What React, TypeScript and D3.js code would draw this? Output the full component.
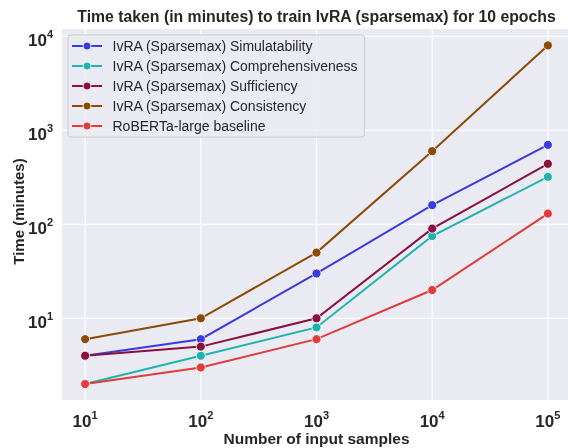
import * as d3 from 'd3';
import React, { useEffect, useRef } from 'react';

const samples = [10, 100, 1000, 10000, 100000];
const seriesNames = [
    'IvRA (Sparsemax) Simulatability',
    'IvRA (Sparsemax) Comprehensiveness',
    'IvRA (Sparsemax) Sufficiency',
    'IvRA (Sparsemax) Consistency',
    'RoBERTa-large baseline',
];
const simulatability = [4, 6, 30, 160, 700];
const comprehensiveness = [2, 4, 8, 75, 320];
const sufficiency = [4, 5, 10, 90, 440];
const consistency = [6, 10, 50, 600, 8000];
const baseline = [2, 3, 6, 20, 130];
const colors = ['#3a3ae0', '#1fb3ad', '#8b1040', '#8b4a06', '#e03c3c'];
const xTicks = [1, 2, 3, 4, 5];
const yTicks = [1, 2, 3, 4];

function Chart() {
    const ref = useRef<SVGSVGElement>(null);

    useEffect(() => {
        const svg = d3.select(ref.current);
        svg.selectAll('*').remove();

        const left = 62, right = 571, top = 29, bottom = 400;
        const ink = '#262626';
        const font = '"Liberation Sans", Arial, sans-serif';

        const x = d3.scaleLog().domain([Math.pow(10, 0.8), Math.pow(10, 5.2)]).range([left, right]);
        const y = d3.scaleLog().domain([Math.pow(10, 0.131), Math.pow(10, 4.078)]).range([bottom, top]);

        svg.append('rect')
            .attr('x', left).attr('y', top)
            .attr('width', right - left).attr('height', bottom - top)
            .attr('fill', '#eaeaf2');

        // grid
        svg.selectAll('.gx').data(xTicks).enter().append('line')
            .attr('x1', d => x(Math.pow(10, d))).attr('x2', d => x(Math.pow(10, d)))
            .attr('y1', top).attr('y2', bottom)
            .attr('stroke', '#fff').attr('stroke-width', 1.2);
        svg.selectAll('.gy').data(yTicks).enter().append('line')
            .attr('x1', left).attr('x2', right)
            .attr('y1', d => y(Math.pow(10, d))).attr('y2', d => y(Math.pow(10, d)))
            .attr('stroke', '#fff').attr('stroke-width', 1.2);

        // tick labels
        const xl = svg.selectAll('.xl').data(xTicks).enter().append('text')
            .attr('x', d => x(Math.pow(10, d))).attr('y', 426.5)
            .attr('text-anchor', 'middle')
            .attr('font-family', font).attr('font-weight', 'bold')
            .attr('font-size', 17).attr('fill', ink);
        xl.append('tspan').text('10');
        xl.append('tspan').attr('dy', -8).attr('font-size', 11).text(d => d);

        const yl = svg.selectAll('.yl').data(yTicks).enter().append('text')
            .attr('x', 53).attr('y', d => y(Math.pow(10, d)) + 9.5)
            .attr('text-anchor', 'end')
            .attr('font-family', font).attr('font-weight', 'bold')
            .attr('font-size', 17).attr('fill', ink);
        yl.append('tspan').text('10');
        yl.append('tspan').attr('dy', -8).attr('font-size', 11).text(d => d);

        // labels
        svg.append('text')
            .attr('x', (left + right) / 2).attr('y', 21.5)
            .attr('text-anchor', 'middle')
            .attr('font-family', font).attr('font-weight', 'bold')
            .attr('font-size', 15.8).attr('fill', ink)
            .text('Time taken (in minutes) to train IvRA (sparsemax) for 10 epochs');
        svg.append('text')
            .attr('x', (left + right) / 2).attr('y', 444)
            .attr('text-anchor', 'middle')
            .attr('font-family', font).attr('font-weight', 'bold')
            .attr('font-size', 15.5).attr('fill', ink)
            .text('Number of input samples');
        svg.append('text')
            .attr('transform', `translate(24,${(top + bottom) / 2 - 3}) rotate(-90)`)
            .attr('text-anchor', 'middle')
            .attr('font-family', font).attr('font-weight', 'bold')
            .attr('font-size', 15).attr('fill', ink)
            .text('Time (minutes)');

        // series
        const allSeries = [simulatability, comprehensiveness, sufficiency, consistency, baseline];
        const line = d3.line<number>()
            .x((d, i) => x(samples[i]))
            .y(d => y(d));

        allSeries.forEach((values, k) => {
            svg.append('path')
                .datum(values)
                .attr('d', line)
                .attr('fill', 'none')
                .attr('stroke', colors[k])
                .attr('stroke-width', 2);
            svg.selectAll('.pt' + k).data(values).enter().append('circle')
                .attr('cx', (d, i) => x(samples[i]))
                .attr('cy', d => y(d))
                .attr('r', 4.5)
                .attr('fill', colors[k])
                .attr('stroke', '#fff').attr('stroke-width', 0.8);
        });

        // legend
        const lg = svg.append('g');
        const box = lg.append('rect')
            .attr('x', 68).attr('y', 35)
            .attr('height', 102).attr('rx', 3)
            .attr('fill', '#eaeaf2').attr('fill-opacity', 0.8)
            .attr('stroke', '#cccccc').attr('stroke-width', 1);
        let maxW = 0;
        seriesNames.forEach((name, k) => {
            const cy = 46 + k * 20;
            lg.append('line')
                .attr('x1', 72).attr('x2', 102).attr('y1', cy).attr('y2', cy)
                .attr('stroke', colors[k]).attr('stroke-width', 2);
            lg.append('circle')
                .attr('cx', 87).attr('cy', cy).attr('r', 4)
                .attr('fill', colors[k]).attr('stroke', '#fff').attr('stroke-width', 0.8);
            const t = lg.append('text')
                .attr('x', 112.5).attr('y', cy + 5)
                .attr('font-family', font).attr('font-size', 14).attr('fill', ink)
                .text(name);
            const n = t.node() as SVGTextElement;
            maxW = Math.max(maxW, n.getComputedTextLength());
        });
        box.attr('width', 112.5 + maxW + 7 - 68);
    }, []);

    return <svg ref={ref} width={568} height={448} style={{ display: 'block' }}></svg>;
}

export default function App() {
    return (
        <div style={{ position: 'fixed', left: 0, top: 0, width: 568, height: 448, overflow: 'hidden' }}>
            <Chart />
        </div>
    );
}
